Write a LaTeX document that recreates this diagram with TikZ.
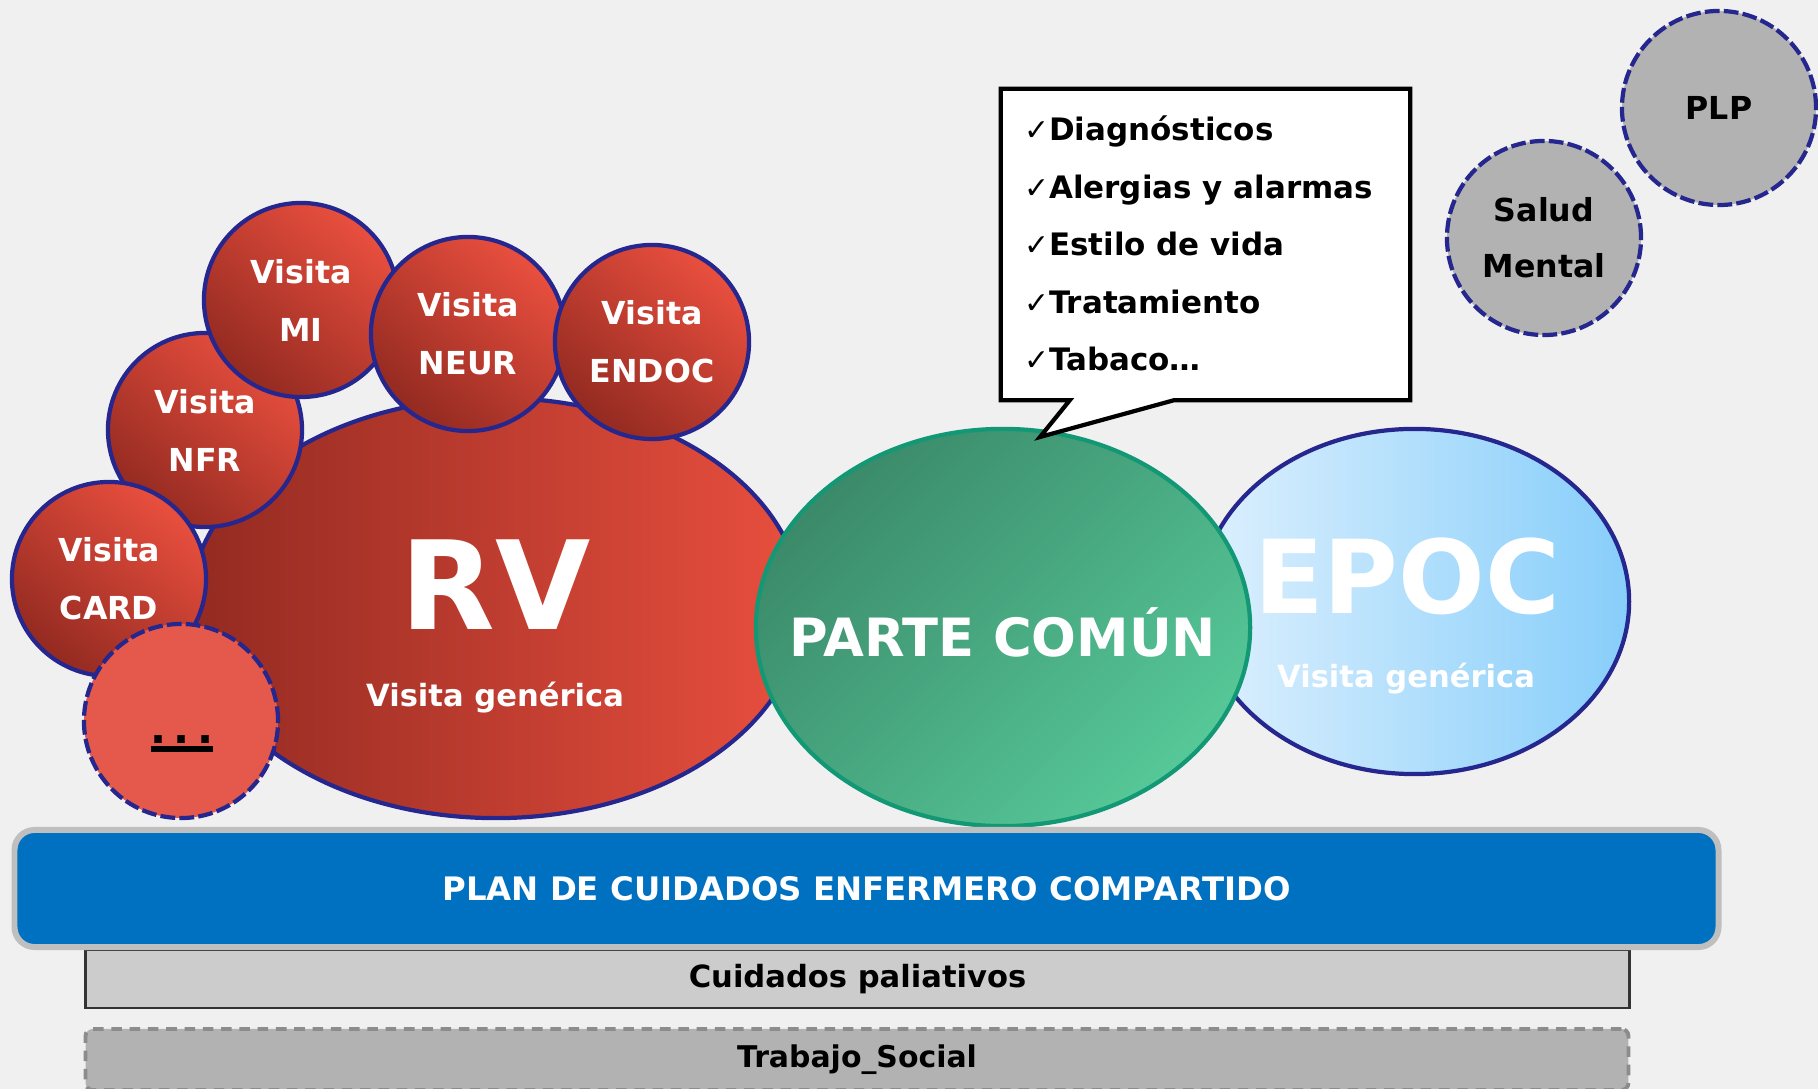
\documentclass[tikz,border=0pt]{standalone}
\usepackage{fontspec}
\setmainfont{DejaVu Sans}
\newfontfamily\checkfont{DejaVu Sans}
\usetikzlibrary{shapes.geometric}

\definecolor{fondo}{HTML}{F0F0F0}
\definecolor{navy}{HTML}{26268F}
\definecolor{rojoclaro}{HTML}{E94F3E}
\definecolor{rojooscuro}{HTML}{932A21}
\definecolor{rojoplano}{HTML}{E4594B}
\definecolor{verdeoscuro}{HTML}{3B8A6A}
\definecolor{verdeclaro}{HTML}{56C898}
\definecolor{verdeborde}{HTML}{129874}
\definecolor{azulpalido}{HTML}{DDF0FE}
\definecolor{azulcielo}{HTML}{87CEFA}
\definecolor{azulplan}{HTML}{0070C0}
\definecolor{grisborde}{HTML}{BFBFBF}
\definecolor{grisclaro}{HTML}{CCCCCC}
\definecolor{grismedio}{HTML}{B2B2B2}
\definecolor{grisoscuro}{HTML}{333333}
\definecolor{grisdash}{HTML}{8C8C8C}

\newcommand{\subrayado}[1]{\vtop{\hbox{#1}\kern0.6pt\hrule height 1.6pt}}
\newcommand{\marca}{{\checkfont\bfseries\fontsize{8.5}{8.5}\selectfont ✓}}

\begin{document}
\begin{tikzpicture}[x=0.01cm, y=-0.01cm, line width=1.2pt,
   visita/.style={circle, draw=navy, minimum size=1.94cm, inner sep=0pt,
      top color=rojoclaro, bottom color=rojooscuro, shading angle=-40,
      text=white, align=center, font=\bfseries\fontsize{9}{16.5}\selectfont},
   opcional/.style={circle, draw=navy, dash pattern=on 4.2pt off 1.2pt,
      fill=grismedio, minimum size=1.94cm, inner sep=0pt, align=center,
      font=\bfseries\fontsize{9}{16}\selectfont},
   rotulo/.style={text=white, inner sep=0pt}]

  % fondo
  \fill[fondo] (0,0) rectangle (1818,1089);
  \useasboundingbox (0,0) rectangle (1818,1089);

  % visitas genericas
  \node[ellipse, draw=navy, left color=rojooscuro, right color=rojoclaro,
     minimum width=6.12cm, minimum height=4.2cm] (rv) at (496,608) {};
  \node[ellipse, draw=navy, left color=azulpalido, right color=azulcielo,
     minimum width=4.29cm, minimum height=3.45cm] (epoc) at (1414.5,601.5) {};
  \node[ellipse, draw=verdeborde, top color=verdeoscuro, bottom color=verdeclaro,
     shading angle=45, minimum width=4.94cm, minimum height=3.97cm] (comun) at (1003,627.5) {};

  % visitas especificas
  \node[visita] (nfr) at (205,430) {Visita\\NFR};
  \node[visita] (card) at (109,579) {Visita\\CARD};
  \node[visita] (mi) at (301,300) {Visita\\MI};
  \node[visita] (neur) at (468,334) {Visita\\NEUR};
  \node[visita] (endoc) at (652,342) {Visita\\ENDOC};
  \node[circle, draw=navy, dash pattern=on 4.2pt off 1.2pt, fill=rojoplano,
     minimum size=1.94cm] (otras) at (181,721) {};
  \node[anchor=base, inner sep=0pt, font=\bfseries\fontsize{12}{12}\selectfont] (puntos) at (182,744) {\subrayado{.\kern2.1pt.\kern2.1pt.}};

  % rotulos
  \node[rotulo, font=\bfseries\fontsize{35}{35}\selectfont] (rvtit) at (496,585) {RV};
  \node[rotulo, font=\bfseries\fontsize{8.7}{10}\selectfont] (rvsub) at (495,698) {Visita genérica};
  \node[rotulo, font=\bfseries\fontsize{15}{15}\selectfont] (comuntit) at (1003,632) {PARTE COMÚN};
  \node[rotulo, font=\bfseries\fontsize{29}{29}\selectfont] (epoctit) at (1407,576) {EPOC};
  \node[rotulo, font=\bfseries\fontsize{8.7}{10}\selectfont] (epocsub) at (1406,679) {Visita genérica};

  % otros programas
  \node[opcional] (salud) at (1544,238) {Salud\\Mental};
  \node[opcional] (plp) at (1719,108) {PLP};

  % bocadillo
  \node[minimum width=4.05cm, minimum height=3.07cm, inner sep=0pt] (nota) at (1205.5,244.5) {};
  \coordinate (punta) at (1040,437);
  \draw[fill=white] (nota.north west) -- (nota.north east) -- (nota.south east)
     -- ([xshift=-2.36cm]nota.south east) -- (punta) -- ([xshift=0.69cm]nota.south west)
     -- (nota.south west) -- cycle;
  \foreach \txt [count=\i] in {Diagnósticos, Alergias y alarmas, Estilo de vida, Tratamiento, Tabaco\ldots}
    \node[anchor=base west, inner sep=0pt, font=\bfseries\fontsize{8.8}{10}\selectfont]
       (item\i) at (1022,83.5+57.5*\i) {\marca\txt};

  % barras inferiores
  \node[draw=grisoscuro, fill=grisclaro, line width=0.8pt, minimum width=15.43cm,
     minimum height=0.58cm, inner sep=0pt, font=\bfseries\fontsize{8.7}{10}\selectfont] (paliativos) at (857.5,979) {Cuidados paliativos};
  \node[draw=grisdash, fill=grismedio, dash pattern=on 3pt off 2.2pt, line width=1.1pt,
     rounded corners=2pt, minimum width=15.42cm, minimum height=0.61cm, inner sep=0pt,
     font=\bfseries\fontsize{8.5}{10}\selectfont] (social) at (857,1059.5) {Trabajo\_Social};
  \node[draw=grisborde, fill=azulplan, line width=1.7pt, rounded corners=0.2cm,
     minimum width=17.03cm, minimum height=1.17cm, text=white,
     font=\bfseries\fontsize{9.2}{10}\selectfont] (plan) at (866.5,888.5) {PLAN DE CUIDADOS ENFERMERO COMPARTIDO};

\end{tikzpicture}
\end{document}
